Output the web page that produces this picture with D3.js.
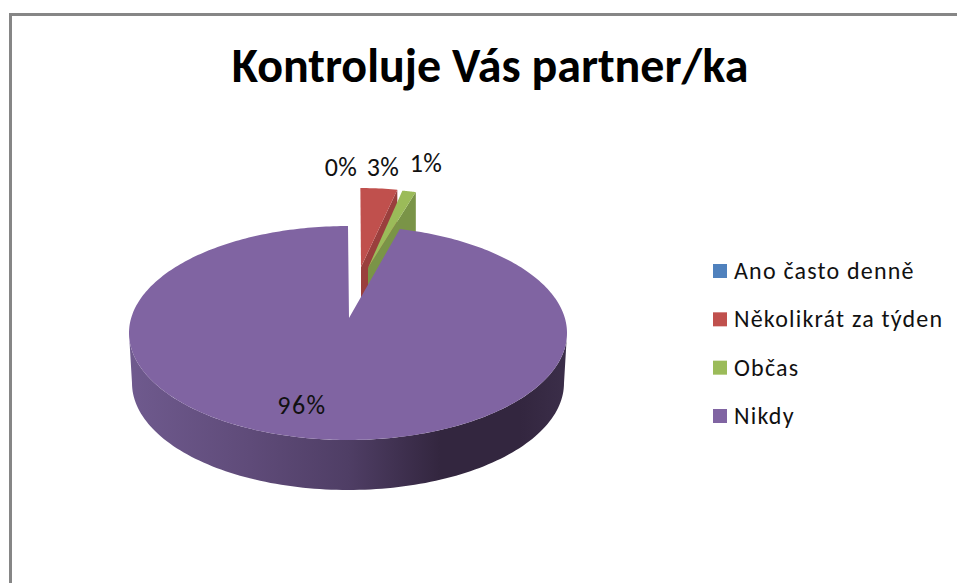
<!DOCTYPE html>
<html>
<head>
<meta charset="utf-8">
<script src="https://cdn.jsdelivr.net/npm/d3@7"></script>
<style>
html,body{margin:0;padding:0;background:#fff;}
svg{display:block;}
text{font-family:Carlito,Lato,"Open Sans",sans-serif;fill:#111;}
</style>
</head>
<body>
<svg id="c" width="957" height="583"></svg>
<script>
const titleText = "Kontroluje Vás partner/ka";
const categories = ["Ano často denně", "Několikrát za týden", "Občas", "Nikdy"];
const values = [0.1, 2.7, 1.0, 96.2];
const labels = ["0%", "3%", "1%", "96%"];
const colors = ["#4F81BD", "#C0504D", "#9BBB59", "#8064A2"];
const darkColors = ["#3c628f", "#9a3f3d", "#7a9447", "#5f4a7c"];

const W = 957, H = 583;
const svg = d3.select("#c");

// chart frame
svg.append("path").attr("d", `M10.5,${H} V14.5 H${W}`)
  .attr("fill", "none").attr("stroke", "#868686").attr("stroke-width", 3);

// title
svg.append("text").attr("x", 490).attr("y", 82).attr("text-anchor", "middle")
  .attr("font-size", 48).attr("font-weight", 700).style("fill", "#000").text(titleText);

// geometry of the tilted pie
const cx = 348, cy = 333, rx = 219, ry = 107;
const cx2 = 348, cy2 = 383, rx2 = 216, ry2 = 107;
const apex = [349, 318];
const depth = 44;
const explode = [
  {dx: 0, dy: 0, ax: 0, ay: 0},
  {dx: 11, dy: -38, ax: 12, ay: -51},
  {dx: 16, dy: -37, ax: 19, ay: -50},
  {dx: 0, dy: 0, ax: 0, ay: 0}
];

const pie = d3.pie().sort(null).value(d => d);
const arcs = pie(values);
const rim = (a, o = {dx: 0, dy: 0}) => [cx + o.dx + rx * Math.sin(a), cy + o.dy - ry * Math.cos(a)];
const rimLow = a => [cx2 + rx2 * Math.sin(a), cy2 - ry2 * Math.cos(a)];
const line = d3.line();
const steps = (a0, a1, n = 120) => d3.range(n + 1).map(i => a0 + (a1 - a0) * i / n);

// gradient for the front wall
const xWall = d3.scaleLinear().domain([129, 567]).range([0, 100]);
const grad = svg.append("defs").append("linearGradient").attr("id", "wall")
  .attr("x1", "0%").attr("x2", "100%").attr("y1", "0%").attr("y2", "0%");
[[129, "#6f5a8e"], [250, "#5f4b79"], [348, "#4f3e65"], [440, "#33263f"], [520, "#33263f"], [567, "#3b2e49"]]
  .forEach(([x, c]) => grad.append("stop").attr("offset", xWall(x) + "%").attr("stop-color", c));

// front wall
const wallPts = steps(Math.PI / 2, 3 * Math.PI / 2).map(a => rim(a))
  .concat(steps(3 * Math.PI / 2, Math.PI / 2).map(rimLow));
svg.append("path").attr("d", line(wallPts) + "Z").attr("fill", "url(#wall)");

// exploded slices: side face then top face
[1, 2].forEach(i => {
  const d = arcs[i], o = explode[i];
  const A = [apex[0] + o.ax, apex[1] + o.ay];
  const end = rim(d.endAngle, o);
  svg.append("path")
    .attr("d", line([end, A, [A[0], A[1] + depth], [end[0], end[1] + depth]]) + "Z")
    .attr("fill", darkColors[i]);
  svg.append("path")
    .attr("d", line([A].concat(steps(d.startAngle, d.endAngle, 12).map(a => rim(a, o)))) + "Z")
    .attr("fill", colors[i]);
});

// main slice
{
  const d = arcs[3];
  svg.append("path")
    .attr("d", line([apex].concat(steps(d.startAngle, d.endAngle, 360).map(a => rim(a)))) + "Z")
    .attr("fill", colors[3]);
}

// data labels
const labelPos = [[341, 176], [383, 176], [426, 172], [302, 414]];
svg.selectAll("text.lab").data(labels).join("text").attr("class", "lab")
  .attr("x", (d, i) => labelPos[i][0]).attr("y", (d, i) => labelPos[i][1])
  .attr("text-anchor", "middle").attr("font-size", 26)
  .attr("letter-spacing", (d, i) => i === 3 ? 1.5 : 0.4).text(d => d);

// legend
const yLegend = d3.scaleLinear().domain([0, 3]).range([271, 416]);
const lg = svg.selectAll("g.lg").data(categories).join("g").attr("class", "lg")
  .attr("transform", (d, i) => `translate(713,${yLegend(i)})`);
lg.append("rect").attr("x", 0).attr("y", -7).attr("width", 14).attr("height", 14)
  .attr("fill", (d, i) => colors[i]);
lg.append("text").attr("x", 21).attr("y", 8).attr("font-size", 24)
  .attr("letter-spacing", 1.2).text(d => d);
</script>
</body>
</html>
